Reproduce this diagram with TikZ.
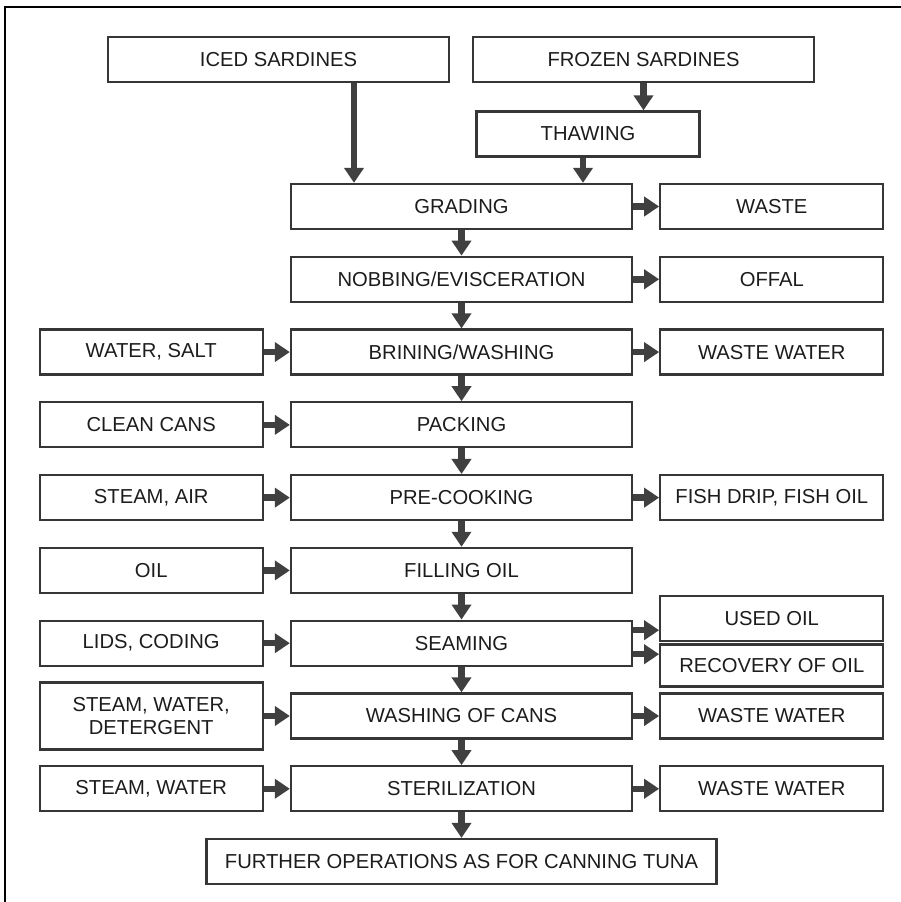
\documentclass[tikz,border=0pt]{standalone}
\usepackage{fontspec}
\setmainfont{Liberation Sans}
\usepackage{xcolor}
\usepackage{tikz}
\usetikzlibrary{arrows.meta, positioning}

\definecolor{boxgray}{HTML}{363636}
\definecolor{arrowgray}{HTML}{404040}
\definecolor{textgray}{HTML}{1C1C1C}

\begin{document}
\begin{tikzpicture}[
  node distance=0.51cm and 0.52cm,
  box/.style={draw=boxgray, line width=1.3pt, minimum width=6.82cm, minimum height=0.9cm,
    font=\fontsize{11.5}{13.5}\selectfont, text=textgray, align=center, inner sep=2pt},
  side/.style={box, minimum width=4.46cm},
  arrow/.style={-{Triangle[length=0.3cm, width=0.38cm]}, line width=0.13cm, draw=arrowgray}
]
\useasboundingbox (0,0) rectangle (18.02,-18.04);

% Frame
\draw[line width=0.04cm] (0.1,-18.04) -- (0.1,-0.14) -- (18.02,-0.14);

% Raw material
\node[box] (iced) at (5.57,-1.19) {ICED SARDINES};
\node[box] (frozen) at (12.87,-1.19) {FROZEN SARDINES};
\node[side] (thawing) at (11.76,-2.68) {THAWING};

% Main line
\node[box] (grading) at (9.23,-4.13) {GRADING};
\node[box, below=of grading] (nobbing) {NOBBING/EVISCERATION};
\node[box, below=of nobbing] (brining) {BRINING/WASHING};
\node[box, below=of brining] (packing) {PACKING};
\node[box, below=of packing] (precook) {PRE-COOKING};
\node[box, below=of precook] (filling) {FILLING OIL};
\node[box, below=of filling] (seaming) {SEAMING};
\node[box, below=of seaming] (washcans) {WASHING OF CANS};
\node[box, below=of washcans] (steril) {STERILIZATION};
\node[box, minimum width=10.2cm, below=of steril] (further) {FURTHER OPERATIONS AS FOR CANNING TUNA};

% Inputs
\node[side, left=of brining] (watersalt) {WATER, SALT};
\node[side, left=of packing] (cans) {CLEAN CANS};
\node[side, left=of precook] (steamair) {STEAM, AIR};
\node[side, left=of filling] (oil) {OIL};
\node[side, left=of seaming] (lids) {LIDS, CODING};
\node[side, left=of washcans, minimum height=1.34cm] (detergent) {STEAM, WATER,\\DETERGENT};
\node[side, left=of steril] (steamwater) {STEAM, WATER};

% Outputs
\node[side, right=of grading] (waste) {WASTE};
\node[side, right=of nobbing] (offal) {OFFAL};
\node[side, right=of brining] (wwbrine) {WASTE WATER};
\node[side, right=of precook] (drip) {FISH DRIP, FISH OIL};
\node[side, right=of seaming, yshift=0.5cm, minimum height=0.9cm] (usedoil) {USED OIL};
\node[side, below=0.03cm of usedoil, minimum height=0.84cm] (recovery) {RECOVERY OF OIL};
\node[side, right=of washcans] (wwcans) {WASTE WATER};
\node[side, right=of steril] (wwsteril) {WASTE WATER};

% Pointers
\draw[arrow] ([xshift=1.51cm]iced.south) -- ([xshift=1.51cm]iced.south |- grading.north);
\draw[arrow] (frozen.south) -- (frozen.south |- thawing.north);
\draw[arrow] ([xshift=-0.1cm]thawing.south) -- ([xshift=-0.1cm]thawing.south |- grading.north);
\draw[arrow] (grading) -- (nobbing);
\draw[arrow] (nobbing) -- (brining);
\draw[arrow] (brining) -- (packing);
\draw[arrow] (packing) -- (precook);
\draw[arrow] (precook) -- (filling);
\draw[arrow] (filling) -- (seaming);
\draw[arrow] (seaming) -- (washcans);
\draw[arrow] (washcans) -- (steril);
\draw[arrow] (steril) -- (further);

\draw[arrow] (watersalt) -- (brining);
\draw[arrow] (cans) -- (packing);
\draw[arrow] (steamair) -- (precook);
\draw[arrow] (oil) -- (filling);
\draw[arrow] (lids) -- (seaming);
\draw[arrow] (detergent) -- (washcans);
\draw[arrow] (steamwater) -- (steril);

\draw[arrow] (grading) -- (waste);
\draw[arrow] (nobbing) -- (offal);
\draw[arrow] (brining) -- (wwbrine);
\draw[arrow] (precook) -- (drip);
\draw[arrow] ([yshift=0.26cm]seaming.east) -- ([yshift=0.26cm]seaming.east -| usedoil.west);
\draw[arrow] ([yshift=-0.22cm]seaming.east) -- ([yshift=-0.22cm]seaming.east -| recovery.west);
\draw[arrow] (washcans) -- (wwcans);
\draw[arrow] (steril) -- (wwsteril);

\end{tikzpicture}
\end{document}
